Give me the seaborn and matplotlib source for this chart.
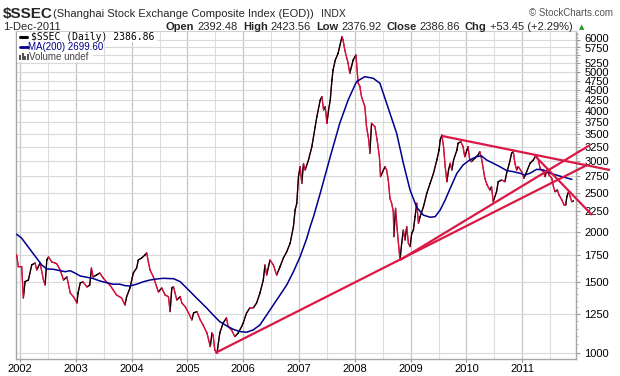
import numpy as np
import pandas as pd
import seaborn as sns
import matplotlib
matplotlib.use("Agg")
import matplotlib.pyplot as plt
import matplotlib.transforms as mtransforms
from matplotlib.ticker import FixedLocator, NullFormatter
from matplotlib.lines import Line2D
from matplotlib.patches import Rectangle

# ---------------- data (decimal year, index level) ----------------
price_t = [2001.94, 2001.97, 2002.03, 2002.06, 2002.09, 2002.15, 2002.21, 2002.27, 2002.30, 2002.36,
           2002.42, 2002.45, 2002.48, 2002.51, 2002.57, 2002.63, 2002.66, 2002.72, 2002.78, 2002.84,
           2002.90, 2002.96, 2003.02, 2003.04, 2003.08, 2003.13, 2003.20, 2003.25, 2003.28, 2003.31,
           2003.37, 2003.43, 2003.49, 2003.55, 2003.61, 2003.67, 2003.73, 2003.82, 2003.88, 2003.91,
           2003.97, 2004.03, 2004.09, 2004.12, 2004.18, 2004.24, 2004.27, 2004.30, 2004.33, 2004.39,
           2004.45, 2004.48, 2004.54, 2004.60, 2004.66, 2004.69, 2004.72, 2004.75, 2004.81, 2004.87,
           2004.90, 2004.96, 2005.02, 2005.08, 2005.11, 2005.17, 2005.23, 2005.28, 2005.35, 2005.41,
           2005.44, 2005.46, 2005.49, 2005.53, 2005.58, 2005.64, 2005.70, 2005.73, 2005.79, 2005.85,
           2005.91, 2005.97, 2006.00, 2006.06, 2006.12, 2006.18, 2006.24, 2006.30, 2006.36, 2006.39,
           2006.42, 2006.48, 2006.54, 2006.60, 2006.66, 2006.72, 2006.78, 2006.84, 2006.90, 2006.93,
           2006.96, 2006.99, 2007.02, 2007.05, 2007.08, 2007.11, 2007.17, 2007.23, 2007.29, 2007.32,
           2007.38, 2007.41, 2007.44, 2007.47, 2007.50, 2007.53, 2007.56, 2007.59, 2007.61, 2007.65,
           2007.70, 2007.77, 2007.79, 2007.82, 2007.88, 2007.91, 2007.94, 2007.97, 2008.02, 2008.06,
           2008.09, 2008.12, 2008.18, 2008.21, 2008.25, 2008.27, 2008.30, 2008.36, 2008.40, 2008.44,
           2008.45, 2008.46, 2008.54, 2008.57, 2008.60, 2008.63, 2008.66, 2008.69, 2008.70, 2008.73,
           2008.76, 2008.81, 2008.84, 2008.87, 2008.90, 2008.93, 2008.96, 2008.99, 2009.02, 2009.05,
           2009.08, 2009.11, 2009.14, 2009.17, 2009.23, 2009.29, 2009.35, 2009.41, 2009.47, 2009.51,
           2009.53, 2009.56, 2009.59, 2009.62, 2009.65, 2009.68, 2009.71, 2009.74, 2009.77, 2009.83,
           2009.85, 2009.90, 2009.94, 2009.97, 2010.01, 2010.03, 2010.06, 2010.09, 2010.15, 2010.21,
           2010.24, 2010.27, 2010.33, 2010.37, 2010.42, 2010.45, 2010.48, 2010.54, 2010.57, 2010.63,
           2010.69, 2010.72, 2010.77, 2010.81, 2010.84, 2010.87, 2010.90, 2010.93, 2010.99, 2011.03,
           2011.08, 2011.14, 2011.20, 2011.25, 2011.29, 2011.32, 2011.38, 2011.41, 2011.44, 2011.48,
           2011.53, 2011.56, 2011.59, 2011.63, 2011.66, 2011.71, 2011.75, 2011.78, 2011.80, 2011.83,
           2011.86, 2011.89, 2011.92]
price_v = [1752, 1638, 1638, 1370, 1504, 1518, 1655, 1673, 1608, 1673,
           1518, 1476, 1702, 1732, 1683, 1673, 1665, 1608, 1518, 1545,
           1409, 1378, 1331, 1409, 1493, 1501, 1459, 1476, 1626, 1545,
           1562, 1580, 1536, 1501, 1476, 1434, 1393, 1370, 1316, 1378,
           1450, 1580, 1626, 1702, 1722, 1752, 1772, 1683, 1608, 1545,
           1459, 1418, 1450, 1393, 1380, 1267, 1450, 1461, 1354, 1380,
           1331, 1303, 1257, 1208, 1257, 1267, 1208, 1174, 1121, 1037,
           1121, 1108, 1017, 998, 1121, 1187, 1222, 1162, 1141, 1098,
           1121, 1162, 1187, 1257, 1294, 1294, 1331, 1409, 1518, 1654,
           1562, 1702, 1654, 1562, 1638, 1722, 1785, 1872, 2060, 2266,
           2353, 2741, 2903, 2640, 2956, 2849, 3017, 3255, 3649, 3865,
           4252, 4333, 4016, 4092, 3721, 4016, 4252, 4768, 5048, 5345,
           5554, 6107, 5993, 5660, 5245, 4954, 5144, 5345, 5500, 4679,
           4600, 4333, 4092, 3649, 3382, 3135, 3721, 3649, 3382, 3074,
           2931, 2742, 2903, 2849, 2690, 2420, 2355, 2244, 1945, 2288,
           2021, 1702, 1873, 2021, 1909, 2060, 1873, 1837, 1983, 2021,
           2181, 2355, 2100, 2181, 2309, 2493, 2640, 2796, 3017, 3194,
           3382, 3480, 3255, 2903, 2664, 2849, 2960, 2849, 3017, 3194,
           3319, 3349, 3255, 3074, 3194, 3255, 3017, 2987, 3046, 3104,
           3163, 3046, 2717, 2617, 2541, 2589, 2376, 2516, 2664, 2690,
           2664, 2796, 2960, 3135, 3163, 2960, 2849, 2903, 2821, 2717,
           2821, 2960, 3017, 3104, 3017, 2877, 2821, 2742, 2849, 2769,
           2717, 2589, 2516, 2541, 2469, 2400, 2332, 2332, 2445, 2516,
           2445, 2376, 2387]

ma_t = [2001.94, 2002.03, 2002.12, 2002.21, 2002.30, 2002.39, 2002.48, 2002.60, 2002.72, 2002.81,
        2002.90, 2002.99, 2003.08, 2003.20, 2003.31, 2003.43, 2003.55, 2003.67, 2003.79, 2003.88,
        2003.97, 2004.09, 2004.21, 2004.33, 2004.45, 2004.57, 2004.69, 2004.75, 2004.87, 2004.99,
        2005.11, 2005.23, 2005.35, 2005.46, 2005.58, 2005.70, 2005.82, 2005.94, 2006.06, 2006.18,
        2006.30, 2006.42, 2006.54, 2006.66, 2006.78, 2006.84, 2006.90, 2007.02, 2007.14, 2007.20,
        2007.26, 2007.38, 2007.56, 2007.73, 2007.88, 2008.03, 2008.18, 2008.33, 2008.45, 2008.57,
        2008.63, 2008.75, 2008.87, 2008.99, 2009.11, 2009.23, 2009.35, 2009.44, 2009.53, 2009.62,
        2009.71, 2009.83, 2009.94, 2010.06, 2010.18, 2010.27, 2010.36, 2010.48, 2010.60, 2010.72,
        2010.84, 2010.96, 2011.05, 2011.14, 2011.26, 2011.38, 2011.50, 2011.68, 2011.89]
ma_v = [1972, 1928, 1855, 1785, 1719, 1654, 1617, 1614, 1601, 1592,
        1601, 1578, 1553, 1542, 1531, 1510, 1495, 1482, 1482, 1470,
        1467, 1482, 1503, 1518, 1527, 1533, 1530, 1530, 1504, 1448,
        1393, 1341, 1291, 1243, 1196, 1169, 1145, 1130, 1126, 1141,
        1174, 1243, 1316, 1393, 1476, 1533, 1592, 1735, 1928, 2060,
        2181, 2493, 3074, 3721, 4252, 4722, 4859, 4814, 4679, 4173,
        3940, 3514, 2960, 2540, 2300, 2200, 2174, 2181, 2266, 2400,
        2566, 2796, 2931, 3017, 3074, 3088, 3017, 2960, 2903, 2840,
        2821, 2796, 2769, 2796, 2859, 2849, 2796, 2750, 2700]

# trend lines (start, end)
support_2005_t = [2005.50, 2012.16]
support_2005_v = [1000, 2930]
support_2008_t = [2008.81, 2012.215]
support_2008_v = [1702, 3287]
resist_2009_t = [2009.563, 2012.573]
resist_2009_v = [3461, 2848]
down_2011_t = [2011.229, 2012.251]
down_2011_v = [3088, 2202]

year_ticks = [2002, 2003, 2004, 2005, 2006, 2007, 2008, 2009, 2010, 2011]
year_labels = ["2002", "2003", "2004", "2005", "2006", "2007", "2008", "2009", "2010", "2011"]
y_ticks = [1000, 1250, 1500, 1750, 2000, 2250, 2500, 2750, 3000, 3250, 3500, 3750,
           4000, 4250, 4500, 4750, 5000, 5250, 5500, 5750, 6000]
y_labels = [str(v) if v != 5500 else "" for v in y_ticks]

# ---------------- styling ----------------
sns.set_theme(style="white")
plt.rcParams["font.family"] = ["Liberation Sans", "DejaVu Sans"]

W, H = 620, 376
RED = "#D3123E"
TREND = "#D91845"
NAVY = "#00008C"

fig = plt.figure(figsize=(W / 100, H / 100), dpi=100)
fig.patch.set_facecolor("white")
ax = fig.add_axes([16 / W, (H - 359) / H, 560 / W, 328 / H])
ax.set_facecolor("white")
ax.set_yscale("log")

df_price = pd.DataFrame({"t": price_t, "v": price_v})
df_ma = pd.DataFrame({"t": ma_t, "v": ma_v})

sns.lineplot(data=df_price, x="t", y="v", ax=ax, color=RED, lw=0.9,
             estimator=None, sort=False, zorder=3)
# up-moves drawn in black, down-moves in red (StockCharts style)
ux, uy, dx, dy = [], [], [], []
for i in range(len(price_v) - 1):
    if price_v[i + 1] > price_v[i]:
        ux += [price_t[i], price_t[i + 1], np.nan]
        uy += [price_v[i], price_v[i + 1], np.nan]
    else:
        dx += [price_t[i], price_t[i + 1], np.nan]
        dy += [price_v[i], price_v[i + 1], np.nan]
ax.plot(ux, uy, color="black", lw=0.9, zorder=4)
ax.plot(dx, dy, color=RED, lw=0.9, zorder=4)

sns.lineplot(data=df_ma, x="t", y="v", ax=ax, color=NAVY, lw=1.1,
             estimator=None, sort=False, zorder=5)

for tt, vv in [(support_2005_t, support_2005_v), (support_2008_t, support_2008_v),
               (resist_2009_t, resist_2009_v), (down_2011_t, down_2011_v)]:
    ax.plot(tt, vv, color=TREND, lw=1.6, clip_on=False, zorder=6,
            solid_capstyle="butt")

ax.set_xlabel("")
ax.set_ylabel("")
ax.set_xlim(2001.928, 2011.964)
ax.set_ylim(966, 6310)

# y axis on the right
ax.yaxis.tick_right()
ax.yaxis.set_major_locator(FixedLocator(y_ticks))
ax.set_yticklabels(y_labels)
ax.yaxis.set_minor_locator(FixedLocator(list(range(1000, 6300, 50))))
ax.yaxis.set_minor_formatter(NullFormatter())
ax.tick_params(axis="y", which="major", length=3, width=0.8, color="#9A9A9A",
               pad=3, labelsize=8, labelcolor="black", right=True, left=False)
ax.tick_params(axis="y", which="minor", length=1.5, width=0.6, color="#B0B0B0",
               right=True, left=False)
# nudge the two crowded top labels apart (as in the reference)
for lab in ax.get_yticklabels():
    txt = lab.get_text()
    if txt == "6000":
        lab.set_transform(lab.get_transform() +
                          mtransforms.ScaledTranslation(0, 2.2 / 100, fig.dpi_scale_trans))
    elif txt == "5750":
        lab.set_transform(lab.get_transform() +
                          mtransforms.ScaledTranslation(0, -0.6 / 100, fig.dpi_scale_trans))

# x axis
ax.xaxis.set_major_locator(FixedLocator(year_ticks))
ax.set_xticklabels(year_labels)
ax.xaxis.set_minor_locator(FixedLocator([y + 0.5 for y in range(2001, 2012)]))
ax.xaxis.set_minor_formatter(NullFormatter())
ax.tick_params(axis="x", which="major", length=2, width=0.8, color="#9A9A9A",
               pad=1.5, labelsize=8, labelcolor="black", bottom=True)
ax.tick_params(axis="x", which="minor", length=0)

ax.set_axisbelow(True)
ax.grid(True, which="major", axis="y", color="#D9D9D9", lw=0.8)
ax.grid(True, which="major", axis="x", color="#C6C6C6", lw=0.9)
ax.grid(True, which="minor", axis="x", color="#DEDEDE", lw=0.8)

for side in ["left", "bottom", "right"]:
    ax.spines[side].set_color("#A6A6A6")
    ax.spines[side].set_linewidth(1.0)
ax.spines["top"].set_color("#D0D0D0")
ax.spines["top"].set_linewidth(0.8)

# ---------------- header ----------------
def fx(px):
    return px / W


def fy(py):
    return 1 - py / H


renderer = fig.canvas.get_renderer()

fig.text(fx(3), fy(14), "$SSEC", fontsize=11, fontweight="bold", va="center",
         ha="left", parse_math=False)
sub = fig.text(fx(53), fy(14), "(Shanghai Stock Exchange Composite Index (EOD))",
               fontsize=8, va="center", ha="left")
sub_end = sub.get_window_extent(renderer).x1
fig.text(fx(sub_end + 7), fy(14), "INDX", fontsize=7.5, va="center", ha="left")
fig.text(fx(613), fy(13), "\u00a9 StockCharts.com", fontsize=7, color="#555555",
         va="center", ha="right")
fig.text(fx(3), fy(27), "1-Dec-2011", fontsize=8, va="center", ha="left")

pieces = [("Open", "bold"), ("2392.48", "normal"), ("High", "bold"), ("2423.56", "normal"),
          ("Low", "bold"), ("2376.92", "normal"), ("Close", "bold"), ("2386.86", "normal"),
          ("Chg", "bold"), ("+53.45 (+2.29%)", "normal")]
xpos = 166
for s, w in pieces:
    t = fig.text(fx(xpos), fy(27), s, fontsize=8, fontweight=w, va="center", ha="left")
    bb = t.get_window_extent(renderer)
    xpos = bb.x1 + (3 if w == "bold" else 5)
fig.text(fx(xpos + 1), fy(27), "\u25b2", fontsize=5, color="#1F9A1F", va="center",
         ha="left", family="DejaVu Sans")

# ---------------- legend inside plot ----------------
for (x0, x1, yc) in [(17, 157, 37), (17, 104, 47), (17, 93, 57)]:
    fig.patches.append(Rectangle((fx(x0), fy(yc + 5)), (x1 - x0) / W, 10 / H,
                                 transform=fig.transFigure, facecolor="white",
                                 edgecolor="none", zorder=8))
fig.lines.append(Line2D([fx(20), fx(27)], [fy(37), fy(37)], transform=fig.transFigure,
                        color="black", lw=2.2, zorder=9))
fig.text(fx(31), fy(37), "$SSEC (Daily) 2386.86", fontsize=7, family="DejaVu Sans Mono",
         color="black", va="center", ha="left", parse_math=False, zorder=10)
fig.lines.append(Line2D([fx(20), fx(28)], [fy(47), fy(47)], transform=fig.transFigure,
                        color=NAVY, lw=2.0, zorder=9))
fig.text(fx(28.5), fy(47), "MA(200) 2699.60", fontsize=7, color=NAVY, va="center",
         ha="left", zorder=10)
for bx, bh in [(19.5, 5), (22, 7), (24.5, 4), (27, 6)]:
    fig.patches.append(Rectangle((fx(bx), fy(60)), 1.6 / W, bh / H,
                                 transform=fig.transFigure, facecolor="#555555",
                                 edgecolor="none", zorder=9))
fig.text(fx(29.5), fy(57), "Volume undef", fontsize=7, color="#444444", va="center",
         ha="left", zorder=10)

fig.savefig("out.png", dpi=100, facecolor="white")
